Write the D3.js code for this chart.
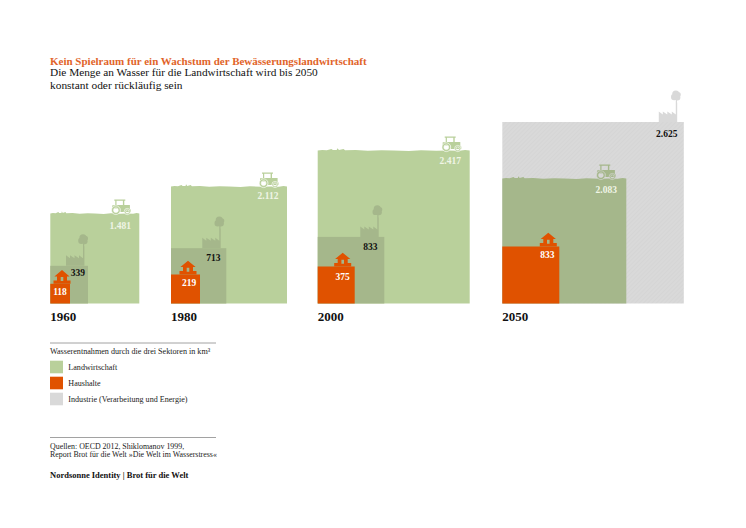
<!DOCTYPE html>
<html lang="de">
<head>
<meta charset="utf-8">
<script src="https://d3js.org/d3.v7.min.js"></script>
<style>
  html, body { margin: 0; background: #fff; }
  svg { display: block; }
  text { font-family: "Liberation Serif", serif; }
</style>
</head>
<body>
<svg width="746" height="528"></svg>
<script>
// values in km3
const years = ['1960', '1980', '2000', '2050'];
const landwirtschaft = [1481, 2112, 2417, 2083];
const industrie = [339, 713, 833, 2625];
const haushalte = [118, 219, 375, 833];

const legendLabels = ['Landwirtschaft', 'Haushalte', 'Industrie (Verarbeitung und Energie)'];

// rough bumps of the field edge: fraction along the top, px above the square
const grassEdge = [[0, 1], [.03, 1.6], [.06, 1.2], [.09, 2.4], [.1, 1.4], [.125, 1.6], [.13, 3.2], [.14, 1.5], [.17, 2.6], [.18, 1.2], [.25, 1.6], [.33, .8], [.42, 1.3], [.5, 1], [.6, .5], [.68, 1.2], [.78, .8], [.86, 1.1], [.93, .7], [.97, 1.5], [1, .9]];

const colors = { agri: '#b9d09b', house: '#e05200', indu: '#d9d9d9', overlap: '#a5b78b', title: '#e1642a', text: '#111' };

const svg = d3.select('svg');
const de = d3.formatLocale({ decimal: ',', thousands: '.', grouping: [3], currency: ['', '€'] }).format(',');

const baseY = 303.5;
const panelX = d3.scaleOrdinal().domain(years).range([50.3, 171, 317.7, 502.3]);

// the original is not drawn to one common scale, every year has its own
const sideRanges = [[0, 19.7, 37.7, 89], [0, 29, 55.3, 116], [0, 37, 66.6, 152], [0, 57, 124, 181.5]];

// per year nudges of the little icons and the numbers
const tractorDx = [18, 18, 18, 20];
const factoryDx = [3, 5, 5, 6];
const houseDx = [8, 12, 12, 11];
const agriLabel = [[19, 14], [19, 11], [19.5, 12], [20, 13]];
const induLabel = [[10, 7], [13, 10], [14, 10], [17, 12]];
const houseLabel = [[10, 8], [11, 8], [12, 10], [12, 8]];

const hatch = svg.append('defs').append('pattern')
  .attr('id', 'hatch').attr('width', 3).attr('height', 3)
  .attr('patternUnits', 'userSpaceOnUse').attr('patternTransform', 'rotate(45)');
hatch.append('rect').attr('width', 3).attr('height', 3).attr('fill', colors.indu);
hatch.append('rect').attr('width', 1).attr('height', 3).attr('fill', '#d5d5d5');

// icons, drawn around (0,0) = middle of their base line
const tractorBody = 'M-7,-15H4V-13.8H3V-9.6H8.6V-5H9.6V-2.4H-1V-6H-9V-9.2H-6V-13.8H-7ZM-4.8,-13.8V-9.6H1.6V-13.8Z';
const rearWheel = { x: -5.4, y: -4.3, r: 4.4, hole: 2.4 };
const frontWheel = { x: 6, y: -3, r: 3.1, hole: 1.6 };
const circle = (x, y, r) => `M${x - r},${y}A${r},${r} 0 1 1 ${x + r},${y}A${r},${r} 0 1 1 ${x - r},${y}Z`;

const factoryPath = 'M-19,0V-10.5L-15,-7.5V-10.5L-10.5,-7.5V-10.5L-6,-7.5V-10.5L-2,-7.5V-19.5H-.6V0Z';
const smokePath = circle(-2, -28, 3.6) + circle(-3.6, -25, 3.2) + circle(-.4, -24.6, 3) + circle(.4, -27.4, 2.6) + 'M-2,-23H-.8V-19H-2Z';
const housePath = 'M0,-13.8L7.6,-7.4H5V-3.4H8.5V0H-8.5V-3.4H-5V-7.4H-7.6ZM-1.3,-6.8V-2.8H1.3V-6.8Z';

const edgeX = d3.scaleLinear().domain([0, 1]);
const edgeLine = d3.line().x(d => edgeX(d[0])).y(d => -d[1]);

years.forEach((year, i) => {
  const sectors = [
    { key: 'agri', value: landwirtschaft[i] },
    { key: 'indu', value: industrie[i] },
    { key: 'house', value: haushalte[i] }
  ].sort((a, b) => b.value - a.value);

  const side = d3.scaleLinear()
    .domain([0, ...sectors.map(d => d.value).reverse()])
    .range(sideRanges[i]);

  // the biggest square keeps its own colour, the ones on top are darkened
  const fillOf = (d, n) => d.key === 'house' ? colors.house : (n === 0 ? colors[d.key] : colors.overlap);

  const panel = svg.append('g').attr('transform', `translate(${panelX(year)},${baseY})`);

  panel.selectAll('g.sector')
    .data(sectors)
    .join('g')
    .attr('class', 'sector')
    .each(function (d, n) {
      const g = d3.select(this);
      const s = side(d.value);
      const fill = fillOf(d, n);

      if (d.key === 'agri') {
        edgeX.range([0, s]);
        g.append('path')
          .attr('transform', `translate(0,${-s})`)
          .attr('d', `${edgeLine(grassEdge)}V${s}H0Z`)
          .attr('fill', fill);

        // tractor, the gaps round the wheels show what lies behind it
        const behind = n === 0 ? '#fff' : colors.indu;
        const tractor = g.append('g').attr('transform', `translate(${s - tractorDx[i]},${-s})`);
        tractor.append('path').attr('d', tractorBody).attr('fill-rule', 'evenodd').attr('fill', fill);
        tractor.selectAll('path.wheel')
          .data([rearWheel, frontWheel])
          .join('path')
          .attr('class', 'wheel')
          .attr('d', w => circle(w.x, w.y, w.r) + circle(w.x, w.y, w.hole))
          .attr('fill-rule', 'evenodd')
          .attr('fill', fill)
          .attr('stroke', behind).attr('stroke-width', .6);

        g.append('text')
          .attr('x', s - agriLabel[i][0]).attr('y', -s + agriLabel[i][1])
          .attr('text-anchor', 'middle').attr('font-size', 9.5).attr('font-weight', 700)
          .attr('fill', '#f0f5e6')
          .text(de(d.value));
      }

      if (d.key === 'indu') {
        g.append('rect')
          .attr('y', -s).attr('width', s).attr('height', s)
          .attr('fill', n === 0 ? 'url(#hatch)' : fill);
        g.append('path')
          .attr('transform', `translate(${s - factoryDx[i]},${-s})`)
          .attr('d', factoryPath + smokePath)
          .attr('fill', fill);
      }

      if (d.key === 'house') {
        g.append('rect')
          .attr('y', -s).attr('width', s).attr('height', s)
          .attr('fill', fill);
        g.append('path')
          .attr('transform', `translate(${s - houseDx[i]},${-s})`)
          .attr('d', housePath)
          .attr('fill-rule', 'evenodd')
          .attr('fill', fill);
      }
    });

  // numbers last so no square covers them
  sectors.filter(d => d.key !== 'agri').forEach(d => {
    const s = side(d.value);
    const nudge = d.key === 'indu' ? induLabel[i] : houseLabel[i];
    panel.append('text')
      .attr('x', s - nudge[0]).attr('y', -s + nudge[1] + 3)
      .attr('text-anchor', 'middle').attr('font-size', 9.5).attr('font-weight', 700)
      .attr('fill', d.key === 'indu' ? colors.text : '#fff')
      .text(de(d.value));
  });

  svg.append('text')
    .attr('x', panelX(year)).attr('y', 321)
    .attr('font-size', 13).attr('font-weight', 700).attr('fill', colors.text)
    .text(year);
});

// heading
const line = (x, y, size, str, weight, fill) => svg.append('text')
  .attr('x', x).attr('y', y).attr('font-size', size)
  .attr('font-weight', weight || 400).attr('fill', fill || colors.text).text(str);

line(50, 64.5, 11, 'Kein Spielraum für ein Wachstum der Bewässerungslandwirtschaft', 700, colors.title);
line(50, 76, 11.3, 'Die Menge an Wasser für die Landwirtschaft wird bis 2050');
line(50, 88.5, 11.4, 'konstant oder rückläufig sein');

// legend
svg.selectAll('line.rule')
  .data([343, 437.5])
  .join('line')
  .attr('class', 'rule')
  .attr('x1', 50).attr('x2', 216)
  .attr('y1', d => d).attr('y2', d => d)
  .attr('stroke', '#8a8a8a').attr('stroke-width', .8);

line(50, 353.5, 8.15, 'Wasserentnahmen durch die drei Sektoren in km³', 400, '#222');

const legendY = d3.scalePoint().domain(legendLabels).range([360.7, 392.7]);
const legendFill = d3.scaleOrdinal().domain(legendLabels).range([colors.agri, colors.house, colors.indu]);

svg.selectAll('rect.swatch')
  .data(legendLabels)
  .join('rect')
  .attr('class', 'swatch')
  .attr('x', 50).attr('y', d => legendY(d)).attr('width', 13).attr('height', 12.6)
  .attr('fill', d => legendFill(d));

svg.selectAll('text.swatch-label')
  .data(legendLabels)
  .join('text')
  .attr('class', 'swatch-label')
  .attr('x', 68.3).attr('y', d => legendY(d) + 9)
  .attr('font-size', 8.1).attr('fill', '#222')
  .text(d => d);

// sources
line(50, 448.5, 7.9, 'Quellen: OECD 2012, Shiklomanov 1999,', 400, '#222');
line(50, 456.5, 7.9, 'Report Brot für die Welt »Die Welt im Wasserstress«', 400, '#222');
line(50, 478, 8.5, 'Nordsonne Identity | Brot für die Welt', 700);
</script>
</body>
</html>
